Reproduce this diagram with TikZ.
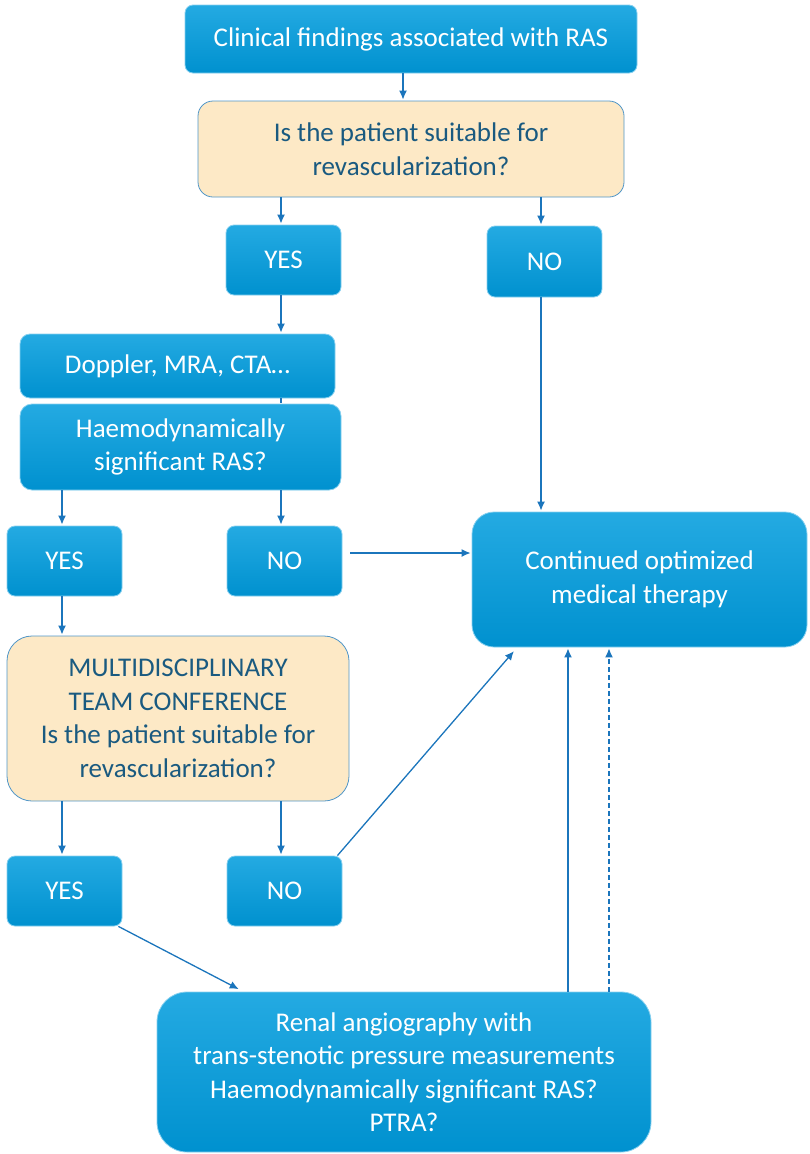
\documentclass[tikz,border=0pt]{standalone}
\usepackage{fontspec}
\setmainfont{Carlito}
\usepackage{tikz}
\usetikzlibrary{arrows.meta}

\definecolor{boxtop}{RGB}{36,170,226}
\definecolor{boxbot}{RGB}{0,145,207}
\definecolor{pfeil}{RGB}{27,117,188}
\definecolor{sandfill}{RGB}{253,233,198}
\definecolor{sandrand}{RGB}{80,150,200}
\definecolor{sandtext}{RGB}{26,90,128}

\begin{document}
\begin{tikzpicture}[x=1pt,y=-1pt,->,>={Latex[length=9pt,width=8pt]},shorten >=1pt,font=\fontsize{27}{33.5}\selectfont]
	\tikzstyle{blau}=[rectangle, rounded corners=8pt, top color=boxtop, bottom color=boxbot, draw=boxtop!55!white, line width=0.8pt, text=white, align=center, inner sep=0pt]
	\tikzstyle{frage}=[rectangle, rounded corners=15pt, fill=sandfill, draw=sandrand, line width=0.8pt, text=sandtext, align=center, inner sep=0pt]
	\tikzstyle{klein}=[minimum width=115pt, minimum height=70pt]
	\tikzstyle{every edge}=[draw=pfeil, line width=1.3pt]
	
	\useasboundingbox (0,0) rectangle (809,1154);
	
	% columns of the connectors
	\coordinate (sA) at (62,0);
	\coordinate (sB) at (281,0);
	\coordinate (sC) at (403,0);
	\coordinate (sD) at (541,0);
	\coordinate (sE) at (568,0);
	\coordinate (sF) at (609,0);
	
	\node[blau, minimum width=452pt, minimum height=68pt] (1) at (411,39) {Clinical findings associated with RAS};
	\node[frage, minimum width=426pt, minimum height=96pt] (2) at (411,149) {Is the patient suitable for\\revascularization?};
	\node[blau, klein] (3) at (283.5,260) {YES};
	\node[blau, klein, minimum height=71pt] (4) at (544.5,261.5) {NO};
	\node[blau, minimum width=315pt, minimum height=64pt, rounded corners=10pt] (5) at (177.5,366) {Doppler, MRA, CTA…};
	\node[blau, minimum width=321pt, minimum height=86pt, rounded corners=12pt] (6) at (180.5,447) {Haemodynamically\\significant RAS?};
	\node[blau, klein] (7) at (64.5,561) {YES};
	\node[blau, klein] (8) at (284.5,561) {NO};
	\node[blau, minimum width=335pt, minimum height=135pt, rounded corners=22pt] (9) at (639.5,579.5) {Continued optimized\\medical therapy};
	\node[frage, minimum width=342pt, minimum height=165pt, rounded corners=25pt] (10) at (178,718.5) {MULTIDISCIPLINARY\\TEAM CONFERENCE\\Is the patient suitable for\\revascularization?};
	\node[blau, klein] (11) at (64.5,891) {YES};
	\node[blau, klein] (12) at (284.5,891) {NO};
	\node[blau, minimum width=494pt, minimum height=160pt, rounded corners=30pt] (13) at (404,1072) {Renal angiography with\\trans-stenotic pressure measurements\\Haemodynamically significant RAS?\\PTRA?};
	
	\path (1.south -| sC) edge (2.north -| sC);
	\path (2.south -| sB) edge (3.north -| sB);
	\path (2.south -| sD) edge (4.north -| sD);
	\path (3.south -| sB) edge (5.north -| sB);
	\path (5.south -| sB) edge[-] (6.north -| sB);
	\path (6.south -| sA) edge (7.north -| sA);
	\path (6.south -| sB) edge (8.north -| sB);
	\path (4.south -| sD) edge (9.north -| sD);
	\path ([xshift=8pt,yshift=8pt]8.east) edge ([yshift=26.5pt]9.west);
	\path (7.south -| sA) edge (10.north -| sA);
	\path (10.south -| sA) edge (11.north -| sA);
	\path (10.south -| sB) edge (12.north -| sB);
	\path ([xshift=-5pt]12.north east) edge ([xshift=43pt,yshift=-3pt]9.south west);
	\path ([xshift=-4pt]11.south east) edge ([xshift=83pt,yshift=2pt]13.north west);
	\path (13.north -| sE) edge (9.south -| sE);
	\path (13.north -| sF) edge[dash pattern=on 5pt off 3pt] (9.south -| sF);
	
\end{tikzpicture}
\end{document}
